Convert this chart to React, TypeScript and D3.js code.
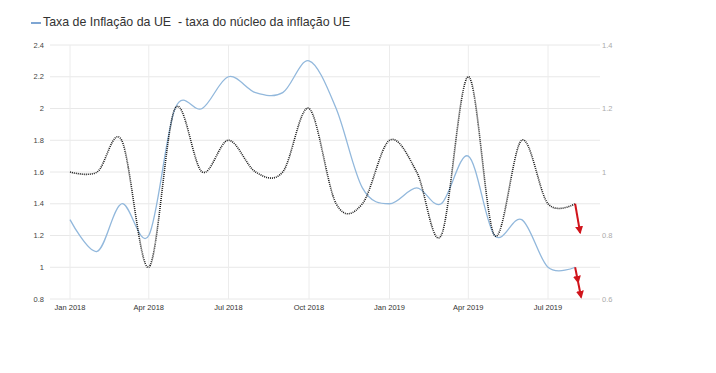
import * as d3 from "d3";

const MONTHS = [
  "2018-01", "2018-02", "2018-03", "2018-04", "2018-05", "2018-06", "2018-07", "2018-08", "2018-09", "2018-10",
  "2018-11", "2018-12", "2019-01", "2019-02", "2019-03", "2019-04", "2019-05", "2019-06", "2019-07", "2019-08",
];

// headline inflation, left axis
const HEADLINE = [1.3, 1.1, 1.4, 1.2, 2.0, 2.0, 2.2, 2.1, 2.1, 2.3, 2.0, 1.5, 1.4, 1.5, 1.4, 1.7, 1.2, 1.3, 1.0, 1.0];
// core inflation, right axis
const CORE = [1.0, 1.0, 1.1, 0.7, 1.2, 1.0, 1.1, 1.0, 1.0, 1.2, 0.9, 0.9, 1.1, 1.0, 0.8, 1.3, 0.8, 1.1, 0.9, 0.9];

const LEFT_TICKS = [0.8, 1, 1.2, 1.4, 1.6, 1.8, 2, 2.2, 2.4];
const RIGHT_TICKS = [0.6, 0.8, 1, 1.2, 1.4];
const X_TICKS = ["2018-01", "2018-04", "2018-07", "2018-10", "2019-01", "2019-04", "2019-07"];

const LEGEND = "Taxa de Inflação da UE  - taxa do núcleo da inflação UE";

const parse = d3.timeParse("%Y-%m");
const fmt = d3.timeFormat("%b %Y");

export default function App() {
  const width = 716;
  const height = 373;
  const top = 45;
  const bottom = 299;

  const x = d3.scaleTime()
    .domain([parse("2018-01")!, parse("2019-07")!])
    .range([70, 548]);
  const yL = d3.scaleLinear().domain([0.8, 2.4]).range([bottom, top]);
  const yR = d3.scaleLinear().domain([0.6, 1.4]).range([bottom, top]);

  const dates = MONTHS.map((m) => parse(m)!);
  const curve = d3.curveCardinal.tension(0);

  const headLine = d3.line<number>()
    .x((_, i) => x(dates[i]))
    .y((d) => yL(d))
    .curve(curve);
  const coreLine = d3.line<number>()
    .x((_, i) => x(dates[i]))
    .y((d) => yR(d))
    .curve(curve);

  const gridVals = d3.range(0.8, 2.41, 0.2);
  const font = "'Liberation Sans', Arial, sans-serif";

  const last = dates.length - 1;
  const lx = x(dates[last]);
  const coreY = yR(CORE[last]);
  const headY = yL(HEADLINE[last]);

  return (
    <svg
      width={width}
      height={height}
      style={{ position: "absolute", left: 0, top: 0, background: "#fff" }}
    >
      <defs>
        <marker id="arrow" viewBox="0 0 10 10" refX="8" refY="5" markerWidth="4" markerHeight="4" orient="auto">
          <path d="M0,0 L10,5 L0,10 z" fill="#d0141b" />
        </marker>
      </defs>

      {/* legend */}
      <line x1={31} x2={41} y1={23} y2={23} stroke="#7ea6d3" strokeWidth={2} />
      <text x={43} y={26} fontFamily={font} fontSize={12.4} fill="#333" style={{ whiteSpace: "pre" }}>
        {LEGEND}
      </text>

      {/* grid */}
      {gridVals.map((v) => (
        <line key={v} x1={50} x2={600} y1={yL(v)} y2={yL(v)} stroke="#e8e8e8" strokeWidth={1} />
      ))}
      {X_TICKS.map((t) => (
        <line key={t} x1={x(parse(t)!)} x2={x(parse(t)!)} y1={top} y2={bottom} stroke="#ececec" strokeWidth={1} />
      ))}

      {/* left axis labels */}
      {LEFT_TICKS.map((v) => (
        <text key={v} x={44} y={yL(v) + 2.5} textAnchor="end" fontFamily={font} fontSize={7.5} fill="#444">
          {d3.format("~g")(v)}
        </text>
      ))}
      {/* right axis labels */}
      {RIGHT_TICKS.map((v) => (
        <text key={v} x={602} y={yR(v) + 2.5} fontFamily={font} fontSize={7.5} fill="#aaa">
          {d3.format("~g")(v)}
        </text>
      ))}
      {/* x labels */}
      {X_TICKS.map((t) => (
        <text key={t} x={x(parse(t)!)} y={310} textAnchor="middle" fontFamily={font} fontSize={7.5} fill="#333">
          {fmt(parse(t)!)}
        </text>
      ))}

      {/* series */}
      <path d={headLine(HEADLINE) ?? ""} fill="none" stroke="#92b8dc" strokeWidth={1.3} />
      <path d={coreLine(CORE) ?? ""} fill="none" stroke="#1a1a1a" strokeWidth={1.6} strokeDasharray="1,1" />

      {/* red arrows */}
      <line x1={lx} y1={coreY} x2={lx + 5} y2={coreY + 29} stroke="#d0141b" strokeWidth={2} markerEnd="url(#arrow)" />
      <line x1={lx} y1={headY} x2={lx + 3} y2={headY + 15} stroke="#d0141b" strokeWidth={2} markerEnd="url(#arrow)" />
      <line x1={lx + 3} y1={headY + 15} x2={lx + 6} y2={headY + 30} stroke="#d0141b" strokeWidth={2} markerEnd="url(#arrow)" />
    </svg>
  );
}
